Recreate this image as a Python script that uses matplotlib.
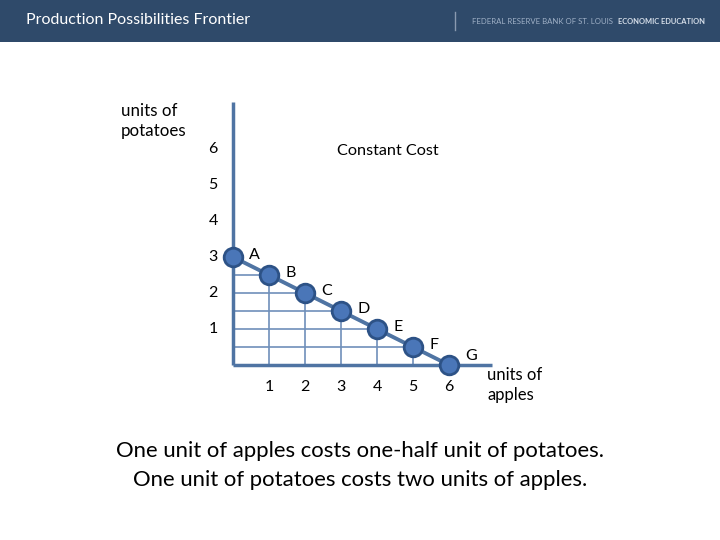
import matplotlib.pyplot as plt
import matplotlib.patches as patches

# data
apples = [0, 1, 2, 3, 4, 5, 6]
potatoes = [3, 2.5, 2, 1.5, 1, 0.5, 0]
point_labels = ['A', 'B', 'C', 'D', 'E', 'F', 'G']
x_ticks = [1, 2, 3, 4, 5, 6]
y_ticks = [1, 2, 3, 4, 5, 6]

axis_col = '#4f74a3'
grid_col = '#6f8fba'
dot_col = '#4a76b8'
dot_edge = '#2d5286'
font = 'Lato'

fig = plt.figure(figsize=(7.2, 5.4), dpi=100)
fig.patch.set_facecolor('white')

# header bar
fig.patches.append(patches.Rectangle((0, 1 - 42 / 540), 1, 42 / 540, transform=fig.transFigure,
                                     facecolor='#2f4a6a', edgecolor='none', zorder=0))
fig.text(26 / 720, 1 - 20 / 540, 'Production Possibilities Frontier', color='white',
         fontsize=11.5, family=font, va='center', ha='left')
fig.lines.append(plt.Line2D([455 / 720, 455 / 720], [1 - 12 / 540, 1 - 30 / 540],
                            transform=fig.transFigure, color='#8a9ab0', lw=1))
fig.text(613 / 720, 1 - 21 / 540, 'FEDERAL RESERVE BANK OF ST. LOUIS', color='#9fb0c6',
         fontsize=5.6, family=font, va='center', ha='right')
fig.text(705 / 720, 1 - 21 / 540, 'ECONOMIC EDUCATION', color='#d8e0ea',
         fontsize=5.4, family=font, fontweight='bold', va='center', ha='right')

ax = fig.add_axes([233 / 720, (540 - 365) / 540, 259.2 / 720, 262.8 / 540])
ax.set_xlim(0, 7.2)
ax.set_ylim(0, 7.3)
ax.axis('off')

# axes lines
ax.plot([0, 0], [0, 7.3], color=axis_col, lw=2.5, solid_capstyle='butt', clip_on=False, zorder=3)
ax.plot([0, 7.2], [0, 0], color=axis_col, lw=2.5, solid_capstyle='butt', clip_on=False, zorder=3)

# guide lines from axes to each point
for x, y in zip(apples, potatoes):
    if x > 0 and y > 0:
        ax.plot([x, x], [0, y], color=grid_col, lw=1.2, zorder=1)
        ax.plot([0, x], [y, y], color=grid_col, lw=1.2, zorder=1)

ax.plot(apples, potatoes, color=axis_col, lw=2.8, zorder=4, clip_on=False)
ax.scatter(apples, potatoes, s=180, color=dot_col, edgecolors=dot_edge, linewidths=2,
           zorder=5, clip_on=False)

for x, y, lab in zip(apples, potatoes, point_labels):
    dy = 0.05 if lab != 'G' else 0.25
    ax.text(x + 0.45, y + dy, lab, fontsize=11.5, family=font, ha='left', va='center')

for t in y_ticks:
    ax.text(-0.55, t, str(t), fontsize=11.5, family=font, ha='center', va='center')
for t in x_ticks:
    ax.text(t, -0.6, str(t), fontsize=11.5, family=font, ha='center', va='center')

ax.text(2.89, 5.95, 'Constant Cost', fontsize=11.7, family=font, ha='left', va='center')

fig.text(121 / 720, 1 - 121 / 540, 'units of\npotatoes', fontsize=12.2, family=font,
         ha='left', va='center', linespacing=1.3)
fig.text(487 / 720, 1 - 385 / 540, 'units of\napples', fontsize=12, family=font,
         ha='left', va='center', linespacing=1.3)

fig.text(0.5, 1 - 451 / 540, 'One unit of apples costs one-half unit of potatoes.',
         fontsize=15.9, family=font, ha='center', va='center')
fig.text(0.5, 1 - 480 / 540, 'One unit of potatoes costs two units of apples.',
         fontsize=15.9, family=font, ha='center', va='center')

fig.savefig('out.png', dpi=100)
